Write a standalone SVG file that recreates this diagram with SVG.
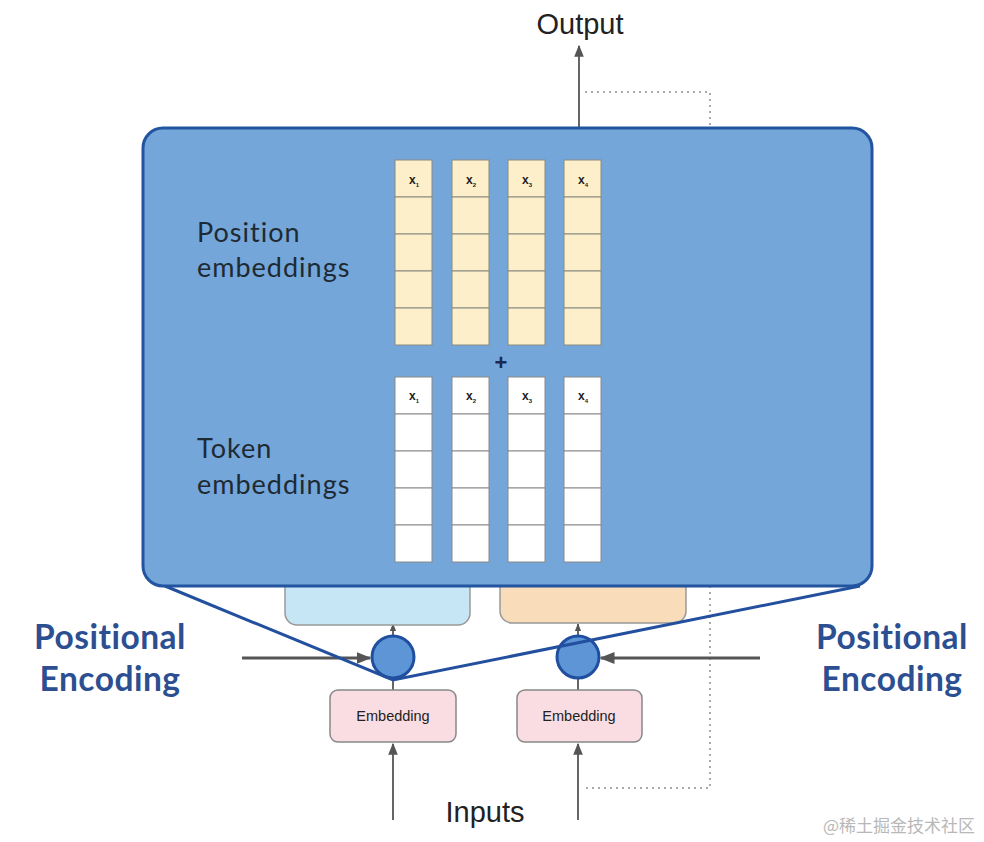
<svg xmlns="http://www.w3.org/2000/svg" width="984" height="842" viewBox="0 0 984 842">
<defs>
<style>
.lbl{font-family:"Liberation Sans",Arial,sans-serif;fill:#222}
.big{font-family:"Lato","Open Sans",sans-serif;font-size:27px;letter-spacing:1px;fill:#1e2a33}
.pe{font-family:"Lato","Open Sans",sans-serif;font-size:33.5px;letter-spacing:0.5px;font-weight:bold;fill:#2c4f92}
.ycell{fill:#fcefc9;stroke:#8a8a80;stroke-width:1}
.wcell{fill:#ffffff;stroke:#8a8a8a;stroke-width:1}
.xs{font-family:"Liberation Sans",Arial,sans-serif;font-size:12px;font-weight:bold;fill:#222}
.sub{font-size:6px}
.gline{stroke:#666;stroke-width:2;fill:none}
.dot{stroke:#aaa;stroke-width:2;stroke-dasharray:2 4;fill:none}
.bline{stroke:#23509e;stroke-width:3;fill:none}
</style>
<marker id="ah" viewBox="0 0 10 10" refX="9" refY="5" markerWidth="6" markerHeight="6" orient="auto" markerUnits="strokeWidth"><path d="M0,1 L10,5 L0,9 z" fill="#555"/></marker>
<marker id="ahs" viewBox="0 0 10 10" refX="9" refY="5" markerWidth="4" markerHeight="4" orient="auto" markerUnits="strokeWidth"><path d="M0,1 L10,5 L0,9 z" fill="#555"/></marker>
<marker id="ahb" viewBox="0 0 10 10" refX="9" refY="5" markerWidth="5" markerHeight="5" orient="auto" markerUnits="strokeWidth"><path d="M0,1 L10,5 L0,9 z" fill="#555"/></marker>
</defs>
<rect width="984" height="842" fill="#ffffff"/>

<g id="connectors">
<path class="dot" d="M585,92 H710 V130"/>
<path class="dot" d="M710,586 V788 H582"/>
<line class="gline" x1="579" y1="128" x2="579" y2="46" marker-end="url(#ah)"/>
<line class="gline" x1="393" y1="820" x2="393" y2="744" marker-end="url(#ah)"/>
<line class="gline" x1="578" y1="820" x2="578" y2="744" marker-end="url(#ah)"/>
<line class="gline" x1="393" y1="690" x2="393" y2="678"/>
<line class="gline" x1="578" y1="690" x2="578" y2="678"/>
<line class="gline" x1="393" y1="636" x2="393" y2="624" marker-end="url(#ahs)"/>
<line class="gline" x1="578" y1="636" x2="578" y2="624" marker-end="url(#ahs)"/>
<line x1="242" y1="658" x2="370" y2="658" stroke="#555" stroke-width="3" marker-end="url(#ahb)"/>
<line x1="760" y1="658" x2="601" y2="658" stroke="#555" stroke-width="3" marker-end="url(#ahb)"/>
</g>

<g id="box-blue"><rect x="285" y="570" width="185" height="55" rx="12" fill="#c6e6f6" stroke="#999" stroke-width="1.5"/></g>
<g id="box-orange"><rect x="500" y="570" width="186" height="53" rx="12" fill="#f9dcb9" stroke="#999" stroke-width="1.5"/></g>

<g id="add1"><circle cx="393" cy="657" r="21" fill="#5d95d7" stroke="#1f4f9e" stroke-width="3"/></g>
<g id="add2"><circle cx="578" cy="657" r="21" fill="#5d95d7" stroke="#1f4f9e" stroke-width="3"/></g>

<g id="emb1"><rect x="330" y="690" width="126" height="52" rx="8" fill="#f9dde3" stroke="#888" stroke-width="1.5"/><text class="lbl" x="393" y="721" font-size="14.5" text-anchor="middle" fill="#5a3a3a">Embedding</text></g>
<g id="emb2"><rect x="517" y="690" width="125" height="52" rx="8" fill="#f9dde3" stroke="#888" stroke-width="1.5"/><text class="lbl" x="579" y="721" font-size="14.5" text-anchor="middle">Embedding</text></g>

<g id="zoom-lines">
<path class="bline" d="M165,586 L393,680 L860,586"/>
</g>

<g id="detail-box">
<rect x="143" y="128" width="729" height="458" rx="20" fill="#74a6da" stroke="#2354a0" stroke-width="3"/>
<text class="big" x="197" y="242">Position</text>
<text class="big" x="197" y="277">embeddings</text>
<text class="big" x="197" y="458">Token</text>
<text class="big" x="197" y="494">embeddings</text>
<text x="501" y="370" font-family="Liberation Sans,Arial,sans-serif" font-size="22" font-weight="bold" fill="#1a2a50" text-anchor="middle">+</text>
<g id="pos-emb">
<rect class="ycell" x="395" y="160" width="37" height="37"/><rect class="ycell" x="395" y="197" width="37" height="37"/><rect class="ycell" x="395" y="234" width="37" height="37"/><rect class="ycell" x="395" y="271" width="37" height="37"/><rect class="ycell" x="395" y="308" width="37" height="37"/>
<rect class="ycell" x="452" y="160" width="37" height="37"/><rect class="ycell" x="452" y="197" width="37" height="37"/><rect class="ycell" x="452" y="234" width="37" height="37"/><rect class="ycell" x="452" y="271" width="37" height="37"/><rect class="ycell" x="452" y="308" width="37" height="37"/>
<rect class="ycell" x="508" y="160" width="37" height="37"/><rect class="ycell" x="508" y="197" width="37" height="37"/><rect class="ycell" x="508" y="234" width="37" height="37"/><rect class="ycell" x="508" y="271" width="37" height="37"/><rect class="ycell" x="508" y="308" width="37" height="37"/>
<rect class="ycell" x="564" y="160" width="37" height="37"/><rect class="ycell" x="564" y="197" width="37" height="37"/><rect class="ycell" x="564" y="234" width="37" height="37"/><rect class="ycell" x="564" y="271" width="37" height="37"/><rect class="ycell" x="564" y="308" width="37" height="37"/>
<text class="xs" x="409" y="184">x<tspan class="sub" dy="3">1</tspan></text>
<text class="xs" x="466" y="184">x<tspan class="sub" dy="3">2</tspan></text>
<text class="xs" x="522" y="184">x<tspan class="sub" dy="3">3</tspan></text>
<text class="xs" x="578" y="184">x<tspan class="sub" dy="3">4</tspan></text>
</g>
<g id="tok-emb">
<rect class="wcell" x="395" y="377" width="37" height="37"/><rect class="wcell" x="395" y="414" width="37" height="37"/><rect class="wcell" x="395" y="451" width="37" height="37"/><rect class="wcell" x="395" y="488" width="37" height="37"/><rect class="wcell" x="395" y="525" width="37" height="37"/>
<rect class="wcell" x="452" y="377" width="37" height="37"/><rect class="wcell" x="452" y="414" width="37" height="37"/><rect class="wcell" x="452" y="451" width="37" height="37"/><rect class="wcell" x="452" y="488" width="37" height="37"/><rect class="wcell" x="452" y="525" width="37" height="37"/>
<rect class="wcell" x="508" y="377" width="37" height="37"/><rect class="wcell" x="508" y="414" width="37" height="37"/><rect class="wcell" x="508" y="451" width="37" height="37"/><rect class="wcell" x="508" y="488" width="37" height="37"/><rect class="wcell" x="508" y="525" width="37" height="37"/>
<rect class="wcell" x="564" y="377" width="37" height="37"/><rect class="wcell" x="564" y="414" width="37" height="37"/><rect class="wcell" x="564" y="451" width="37" height="37"/><rect class="wcell" x="564" y="488" width="37" height="37"/><rect class="wcell" x="564" y="525" width="37" height="37"/>
<text class="xs" x="409" y="400" font-size="11">x<tspan class="sub" dy="3">1</tspan></text>
<text class="xs" x="466" y="400" font-size="11">x<tspan class="sub" dy="3">2</tspan></text>
<text class="xs" x="522" y="400" font-size="11">x<tspan class="sub" dy="3">3</tspan></text>
<text class="xs" x="578" y="400" font-size="11">x<tspan class="sub" dy="3">4</tspan></text>
</g>
</g>

<g id="labels">
<text class="lbl" x="580" y="34" font-size="29" text-anchor="middle">Output</text>
<text class="lbl" x="485" y="822" font-size="29" text-anchor="middle">Inputs</text>
<text class="pe" x="110" y="649" text-anchor="middle">Positional</text>
<text class="pe" x="110" y="691" text-anchor="middle">Encoding</text>
<text class="pe" x="892" y="649" text-anchor="middle">Positional</text>
<text class="pe" x="892" y="691" text-anchor="middle">Encoding</text>
<text x="975" y="832" font-family="Noto Sans CJK SC,sans-serif" font-size="17" fill="#b8b8b8" text-anchor="end">@稀土掘金技术社区</text>
</g>
</svg>
